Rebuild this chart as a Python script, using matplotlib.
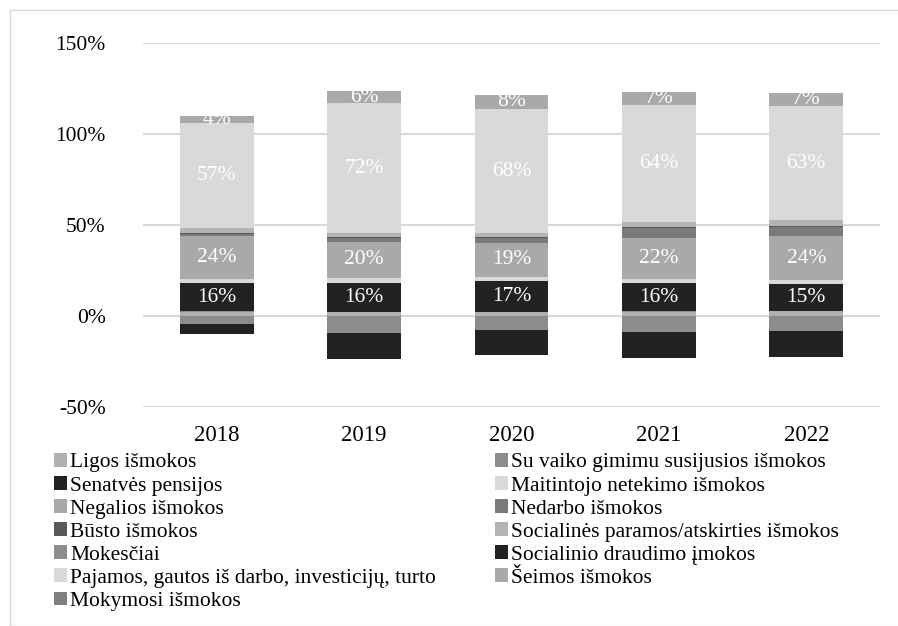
import matplotlib
matplotlib.use("Agg")
import matplotlib.pyplot as plt
from matplotlib.patches import Rectangle, Patch
import numpy as np

plt.rcParams['font.family'] = ['Liberation Serif', 'DejaVu Serif']

years = ['2018', '2019', '2020', '2021', '2022']

# series in Excel order (stacking order)
ligos = [2.4, 2.2, 2.2, 2.4, 2.6]
su_vaiko = [0.2, 0.2, 0.2, 0.2, 0.2]
senatves = [15.6, 16.0, 16.6, 15.6, 14.7]
maitintojo = [2.0, 2.4, 2.4, 2.4, 2.4]
negalios = [23.5, 20.1, 18.9, 22.3, 23.8]
nedarbo = [1.5, 1.8, 2.5, 5.5, 5.0]
busto = [0.5, 0.5, 0.5, 0.5, 0.5]
socialines = [2.7, 2.2, 2.4, 2.7, 3.5]
mokesciai = [-4.2, -9.2, -7.9, -8.6, -8.2]
soc_draudimo = [-5.5, -14.6, -13.7, -14.3, -14.3]
pajamos = [57.4, 71.6, 67.8, 64.2, 62.6]
seimos = [4.0, 6.4, 8.2, 7.1, 7.1]
mokymosi = [0.0, 0.0, 0.0, 0.0, 0.0]

names = ['Ligos išmokos', 'Su vaiko gimimu susijusios išmokos', 'Senatvės pensijos',
         'Maitintojo netekimo išmokos', 'Negalios išmokos', 'Nedarbo išmokos',
         'Būsto išmokos', 'Socialinės paramos/atskirties išmokos', 'Mokesčiai',
         'Socialinio draudimo įmokos', 'Pajamos, gautos iš darbo, investicijų, turto',
         'Šeimos išmokos', 'Mokymosi išmokos']
series = [ligos, su_vaiko, senatves, maitintojo, negalios, nedarbo, busto,
          socialines, mokesciai, soc_draudimo, pajamos, seimos, mokymosi]
colors = ['#b0b0b0', '#8c8c8c', '#222222', '#d9d9d9', '#a9a9a9', '#7a7a7a',
          '#595959', '#b4b4b4', '#8c8c8c', '#222222', '#d9d9d9', '#a9a9a9', '#7f7f7f']
labelled = {2, 4, 10, 11}

fig = plt.figure(figsize=(8.98, 6.26), dpi=100)
ax = fig.add_axes([143 / 898, 1 - 407 / 626, (880 - 143) / 898, (407 - 43) / 626])

x = np.arange(len(years))
pos_base = np.zeros(len(years))
neg_base = np.zeros(len(years))
for i, (vals, c) in enumerate(zip(series, colors)):
    vals = np.array(vals, dtype=float)
    bottom = np.where(vals >= 0, pos_base, neg_base)
    ax.bar(x, vals, bottom=bottom, width=0.5, color=c, zorder=2)
    if i in labelled:
        for xi, v, b in zip(x, vals, bottom):
            ax.text(xi, b + v / 2, f'{round(v):d}%', ha='center', va='center',
                    color='white', fontsize=15.5, zorder=3)
    pos_base = pos_base + np.where(vals >= 0, vals, 0)
    neg_base = neg_base + np.where(vals < 0, vals, 0)

ax.set_xlim(-0.5, len(years) - 0.5)
ax.set_ylim(-50, 150)
ax.set_yticks([-50, 0, 50, 100, 150])
ax.set_yticklabels(['-50%', '0%', '50%', '100%', '150%'])
ax.set_xticks(x)
ax.set_xticklabels(years)
ax.grid(axis='y', color='#d9d9d9', linewidth=1.5, zorder=0)
ax.tick_params(length=0, colors='black')
ax.tick_params(axis='y', pad=27, labelsize=15.5)
ax.tick_params(axis='x', pad=13, labelsize=16.5)
for s in ax.spines.values():
    s.set_visible(False)

# legend, row-wise like Excel
handles = [Patch(facecolor=c, label=n) for c, n in zip(colors, names)]
order = list(range(0, 13, 2)) + list(range(1, 13, 2))
fig.legend([handles[i] for i in order], [names[i] for i in order], ncol=2,
           loc='upper left', bbox_to_anchor=(54 / 898, 1 - 453 / 626),
           frameon=False, fontsize=15.5, handlelength=0.6, handleheight=0.6,
           handletextpad=0.15, labelspacing=0.17, columnspacing=2.75,
           borderpad=0, borderaxespad=0)

fig.patches.append(Rectangle((10 / 898, 0), 1, 1 - 10 / 626, transform=fig.transFigure,
                             fill=False, edgecolor='#d9d9d9', linewidth=1))

fig.savefig('out.png', dpi=100)
